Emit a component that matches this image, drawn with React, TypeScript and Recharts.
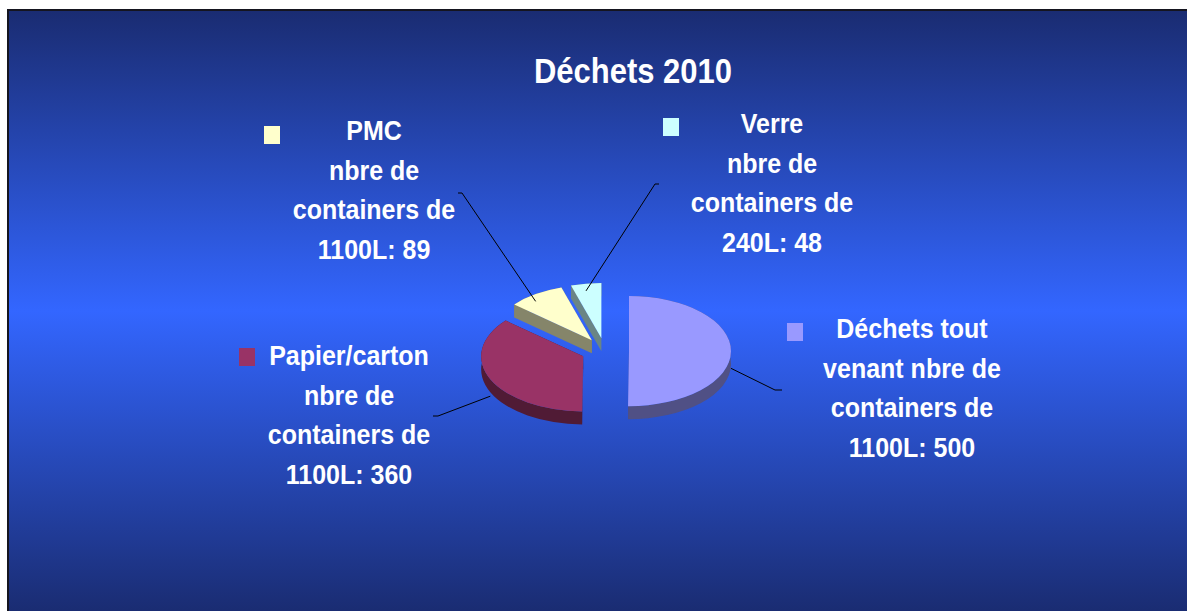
import React from "react";
import { PieChart, Pie, Cell } from "recharts";

// data
const categories = ["Déchets tout venant", "Papier/carton", "PMC", "Verre"];
const containerCounts = [500, 360, 89, 48];
const containerSizes = ["1100L", "1100L", "1100L", "240L"];
// how the category name wraps in each label
const nameLines = [["Déchets tout", "venant nbre de"], ["Papier/carton", "nbre de"], ["PMC", "nbre de"], ["Verre", "nbre de"]];
const sliceColors = ["#9999FF", "#993366", "#FFFFCC", "#CCFFFF"];

const chartData = categories.map((name, i) => ({ name, value: containerCounts[i] }));

// label boxes (chart coords): text centre, first baseline, marker, leader bend
const labelLayout = [
  { tx: 903, ty: 327, mx: 778, my: 312, bx: 766, by: 379, ex: 773 },
  { tx: 340, ty: 354, mx: 230, my: 337, bx: 429, by: 405, ex: 424 },
  { tx: 365, ty: 129, mx: 255, my: 115, bx: 453, by: 182, ex: 449 },
  { tx: 763, ty: 122, mx: 654, my: 107, bx: 646, by: 173, ex: 650 },
];

const TILT = 0.54;
const DEPTH = 13;
const EXPLODE = 24;
const LINE_H = 39.5;
const RAD = Math.PI / 180;
const FONT = "'Liberation Sans', Arial, sans-serif";

function pt(cx: number, cy: number, a: number, rx: number, ry: number) {
  return [cx + rx * Math.cos(a * RAD), cy - ry * Math.sin(a * RAD)];
}

function shade(hex: string, f: number) {
  const n = parseInt(hex.slice(1), 16);
  const r = Math.round(((n >> 16) & 255) * f);
  const g = Math.round(((n >> 8) & 255) * f);
  const b = Math.round((n & 255) * f);
  return `rgb(${r},${g},${b})`;
}

function centre(p: any) {
  const m = p.midAngle;
  return [p.cx + EXPLODE * Math.cos(m * RAD), p.cy - EXPLODE * TILT * Math.sin(m * RAD)];
}

function geom(p: any) {
  const [x, y] = centre(p);
  const r = p.outerRadius;
  const ry = r * TILT;
  const hi = Math.max(p.startAngle, p.endAngle);
  const lo = Math.min(p.startAngle, p.endAngle);
  return { x, y, r, ry, pHi: pt(x, y, hi, r, ry), pLo: pt(x, y, lo, r, ry), large: hi - lo > 180 ? 1 : 0 };
}

function SliceWalls(p: any) {
  const { x, y, r, ry, pHi, pLo, large } = geom(p);
  const dark = shade(p.fill, 0.52);
  const face = (q: number[]) => `M${x},${y} L${q[0]},${q[1]} L${q[0]},${q[1] + DEPTH} L${x},${y + DEPTH} Z`;
  const outer = `M${pHi[0]},${pHi[1]} A${r},${ry} 0 ${large} 1 ${pLo[0]},${pLo[1]} L${pLo[0]},${pLo[1] + DEPTH} A${r},${ry} 0 ${large} 0 ${pHi[0]},${pHi[1] + DEPTH} Z`;
  return (
    <g>
      <path d={face(pHi)} fill={dark} />
      <path d={face(pLo)} fill={dark} />
      <path d={outer} fill={dark} />
    </g>
  );
}

function SliceTop(p: any) {
  const { x, y, r, ry, pHi, pLo, large } = geom(p);
  return <path d={`M${x},${y} L${pHi[0]},${pHi[1]} A${r},${ry} 0 ${large} 1 ${pLo[0]},${pLo[1]} Z`} fill={p.fill} />;
}

function renderLabel(p: any) {
  const i = typeof p.index === "number" ? p.index : categories.indexOf(p.name);
  const L = labelLayout[i];
  const [x, y] = centre(p);
  const r = p.outerRadius;
  const e = pt(x, y, p.midAngle, r, r * TILT);
  const front = Math.sin(p.midAngle * RAD) < 0;
  const sy = e[1] + (front ? DEPTH + 4 : DEPTH * 0.55);
  const lines = [...nameLines[i], "containers de", `${containerSizes[i]}: ${containerCounts[i]}`];
  return (
    <g key={`lbl-${i}`}>
      <polyline points={`${e[0]},${sy} ${L.bx},${L.by} ${L.ex},${L.by}`} fill="none" stroke="#000" strokeWidth={1} />
      <rect x={L.mx} y={L.my} width={16} height={18} fill={sliceColors[i]} />
      {lines.map((t, k) => (
        <text
          key={k}
          x={0}
          y={0}
          transform={`translate(${L.tx},${L.ty + k * LINE_H}) scale(1,1.12)`}
          textAnchor="middle"
          fill="#fff"
          fontFamily={FONT}
          fontWeight="bold"
          fontSize={25}
        >
          {t}
        </text>
      ))}
    </g>
  );
}

export default function App() {
  return (
    <div
      style={{
        position: "absolute",
        left: 7,
        top: 9,
        width: 1178,
        height: 600,
        borderLeft: "2px solid #15151f",
        borderTop: "2px solid #15151f",
        background: "linear-gradient(to bottom, #1a2c72 0%, #3366ff 50%, #1a2c72 100%)",
        overflow: "hidden",
      }}
    >
      <PieChart width={1178} height={600}>
        <text
          x={0}
          y={0}
          transform="translate(624,72) scale(1,1.12)"
          textAnchor="middle"
          fill="#fff"
          fontFamily={FONT}
          fontWeight="bold"
          fontSize={31}
        >
          Déchets 2010
        </text>
        <Pie
          data={chartData}
          dataKey="value"
          nameKey="name"
          cx={591}
          cy={335}
          outerRadius={102}
          startAngle={90}
          endAngle={-270}
          stroke="none"
          shape={SliceWalls}
          activeShape={SliceWalls}
          inactiveShape={SliceWalls}
          labelLine={false}
          isAnimationActive={false}
        >
          {chartData.map((d, i) => (
            <Cell key={d.name} fill={sliceColors[i]} />
          ))}
        </Pie>
        <Pie
          data={chartData}
          dataKey="value"
          nameKey="name"
          cx={591}
          cy={335}
          outerRadius={102}
          startAngle={90}
          endAngle={-270}
          stroke="none"
          shape={SliceTop}
          activeShape={SliceTop}
          inactiveShape={SliceTop}
          label={renderLabel}
          labelLine={false}
          isAnimationActive={false}
        >
          {chartData.map((d, i) => (
            <Cell key={d.name} fill={sliceColors[i]} />
          ))}
        </Pie>
      </PieChart>
    </div>
  );
}
